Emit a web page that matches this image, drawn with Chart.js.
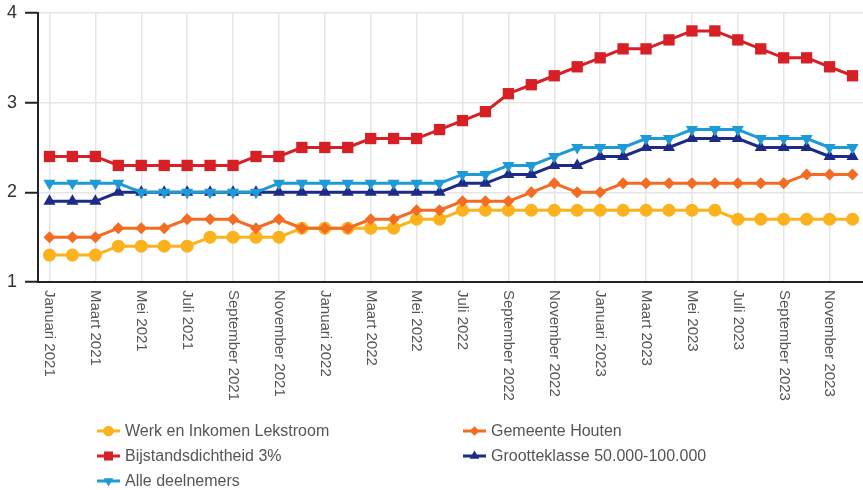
<!DOCTYPE html>
<html>
<head>
<meta charset="utf-8">
<script src="https://cdn.jsdelivr.net/npm/chart.js@4"></script>
<style>
  html, body { margin: 0; padding: 0; background: #fff; overflow: hidden; }
  #wrap { position: relative; width: 872px; height: 490px; }
</style>
</head>
<body>
<div id="wrap"><canvas id="myChart"></canvas></div>
<script>
const months = ['Januari', 'Februari', 'Maart', 'April', 'Mei', 'Juni', 'Juli', 'Augustus', 'September', 'Oktober', 'November', 'December'];
const years = [2021, 2022, 2023];
const labels = [];
years.forEach(y => months.forEach(m => labels.push(m + ' ' + y)));

const yTicks = [1, 2, 3, 4];

const werkInkomen = [1.3,1.3,1.3,1.4,1.4,1.4,1.4,1.5,1.5,1.5,1.5,1.6, 1.6,1.6,1.6,1.6,1.7,1.7,1.8,1.8,1.8,1.8,1.8,1.8, 1.8,1.8,1.8,1.8,1.8,1.8,1.7,1.7,1.7,1.7,1.7,1.7];
const gemeenteHouten = [1.5,1.5,1.5,1.6,1.6,1.6,1.7,1.7,1.7,1.6,1.7,1.6, 1.6,1.6,1.7,1.7,1.8,1.8,1.9,1.9,1.9,2.0,2.1,2.0, 2.0,2.1,2.1,2.1,2.1,2.1,2.1,2.1,2.1,2.2,2.2,2.2];
const bijstand = [2.4,2.4,2.4,2.3,2.3,2.3,2.3,2.3,2.3,2.4,2.4,2.5, 2.5,2.5,2.6,2.6,2.6,2.7,2.8,2.9,3.1,3.2,3.3,3.4, 3.5,3.6,3.6,3.7,3.8,3.8,3.7,3.6,3.5,3.5,3.4,3.3];
const grootteklasse = [1.9,1.9,1.9,2.0,2.0,2.0,2.0,2.0,2.0,2.0,2.0,2.0, 2.0,2.0,2.0,2.0,2.0,2.0,2.1,2.1,2.2,2.2,2.3,2.3, 2.4,2.4,2.5,2.5,2.6,2.6,2.6,2.5,2.5,2.5,2.4,2.4];
const alleDeelnemers = [2.1,2.1,2.1,2.1,2.0,2.0,2.0,2.0,2.0,2.0,2.1,2.1, 2.1,2.1,2.1,2.1,2.1,2.1,2.2,2.2,2.3,2.3,2.4,2.5, 2.5,2.5,2.6,2.6,2.7,2.7,2.7,2.6,2.6,2.6,2.5,2.5];

const series = [
    { label: 'Werk en Inkomen Lekstroom', data: werkInkomen, color: '#fbb21c', style: 'circle', radius: 6.5, rot: 0, order: 5 },
    { label: 'Gemeente Houten', data: gemeenteHouten, color: '#f36c21', style: 'rectRot', radius: 6, rot: 0, order: 4 },
    { label: 'Bijstandsdichtheid 3%', data: bijstand, color: '#d71f26', style: 'rect', radius: 8, rot: 0, order: 1 },
    { label: 'Grootteklasse 50.000-100.000', data: grootteklasse, color: '#1d2a86', style: 'triangle', radius: 7, rot: 0, order: 3 },
    { label: 'Alle deelnemers', data: alleDeelnemers, color: '#1e9ad6', style: 'triangle', radius: 7, rot: 180, order: 2 }
];

// x labels drawn top-to-bottom, legend in two fixed columns
const customDraw = {
    id: 'customDraw',
    afterDraw(chart) {
        const c = chart.ctx;
        const xs = chart.scales.x;
        c.save();
        c.fillStyle = '#555';
        c.font = '15px "Liberation Sans", Arial, sans-serif';
        c.textAlign = 'left';
        c.textBaseline = 'middle';
        labels.forEach((lab, i) => {
            if (i % 2 !== 0) return;
            const x = xs.getPixelForValue(i);
            c.save();
            c.translate(x, chart.chartArea.bottom + 8);
            c.rotate(Math.PI / 2);
            c.fillText(lab, 0, 0);
            c.restore();
        });

        const cols = [97, 463];
        const rows = [431, 456, 481];
        c.font = '16px "Liberation Sans", Arial, sans-serif';
        series.forEach((s, i) => {
            const lx = cols[i % 2];
            const ly = rows[Math.floor(i / 2)];
            c.strokeStyle = s.color;
            c.lineWidth = 3;
            c.beginPath();
            c.moveTo(lx, ly);
            c.lineTo(lx + 23, ly);
            c.stroke();
            c.fillStyle = s.color;
            Chart.helpers.drawPoint(c, { pointStyle: s.style, radius: s.radius * 0.8, rotation: s.rot, borderWidth: 0 }, lx + 11.5, ly);
            c.fillStyle = '#555';
            c.fillText(s.label, lx + 28, ly + 1);
        });
        c.restore();
    }
};

const ctx = document.getElementById('myChart').getContext('2d');
const myChart = new Chart(ctx, {
    type: 'line',
    data: {
        labels: labels,
        datasets: series.map(s => ({
            label: s.label,
            data: s.data,
            borderColor: s.color,
            backgroundColor: s.color,
            pointBackgroundColor: s.color,
            pointBorderColor: s.color,
            pointBorderWidth: 0,
            pointStyle: s.style,
            pointRadius: s.radius,
            pointRotation: s.rot,
            borderWidth: 3,
            tension: 0,
            fill: false,
            order: s.order
        }))
    },
    plugins: [customDraw],
    options: {
        responsive: true,
        maintainAspectRatio: false,
        animation: false,
        layout: { padding: { top: 13, left: 0, right: 0, bottom: 0 } },
        plugins: {
            legend: { display: false },
            tooltip: { enabled: false }
        },
        scales: {
            x: {
                offset: true,
                ticks: { display: false },
                grid: {
                    color: c => (c.index % 2 === 0 ? '#e5e5e5' : 'rgba(0,0,0,0)'),
                    lineWidth: 1.5,
                    drawTicks: false
                },
                border: { color: '#222', width: 2 },
                afterFit: s => { s.height = 208; s.paddingLeft = 0; s.paddingRight = 0; }
            },
            y: {
                min: 1,
                max: 4,
                afterBuildTicks: s => { s.ticks = yTicks.map(v => ({ value: v })); },
                ticks: {
                    color: '#333',
                    font: { size: 18, family: '"Liberation Sans", Arial, sans-serif' },
                    padding: 8
                },
                grid: {
                    color: '#e5e5e5',
                    lineWidth: 1.5,
                    tickLength: 13,
                    tickColor: '#222',
                    tickWidth: 2
                },
                border: { color: '#222', width: 2 },
                afterFit: s => { s.width = 38; s.paddingTop = 0; s.paddingBottom = 0; }
            }
        }
    }
});
</script>
</body>
</html>
